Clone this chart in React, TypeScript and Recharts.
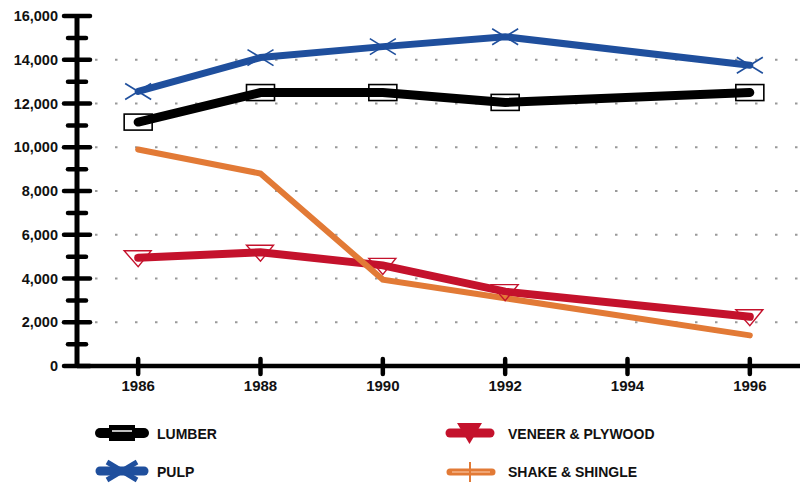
import { CartesianGrid, Line, LineChart, XAxis, YAxis } from 'recharts'

const YEARS = [1986, 1988, 1990, 1992, 1996]
const LUMBER = [11150, 12500, 12500, 12050, 12500]
const PULP = [12550, 14100, 14600, 15050, 13750]
const VENEER = [4950, 5200, 4600, 3400, 2250]
const SHAKE = [9900, 8800, 3950, 3100, 1400]

const X_TICKS = [1986, 1988, 1990, 1992, 1994, 1996]
const Y_TICKS = [0, 1000, 2000, 3000, 4000, 5000, 6000, 7000, 8000, 9000, 10000, 11000, 12000, 13000, 14000, 15000, 16000]
const GRID_VALUES = [2000, 4000, 6000, 8000, 10000, 12000, 14000]

const data = YEARS.map((year, i) => ({
  year, lumber: LUMBER[i], pulp: PULP[i], veneer: VENEER[i], shake: SHAKE[i],
}))

const FONT = '"Liberation Sans", Arial, Helvetica, sans-serif'
const BLUE = '#1f4f9d'
const RED = '#c4122c'
const ORANGE = '#e27a36'

function YTick({ x, y, payload }: any) {
  const major = payload.value % 2000 === 0
  return (
    <g>
      <line x1={x - (major ? 13 : 9)} x2={x + (major ? 13 : 9)} y1={y} y2={y} stroke="#000" strokeWidth={4.5} strokeLinecap="round" />
      {major && (
        <text x={x - 19} y={y} dy={5} textAnchor="end" fontFamily={FONT} fontWeight="bold" fontSize={14.5} fill="#111">
          {payload.value.toLocaleString('en-US')}
        </text>
      )}
    </g>
  )
}

function XTick({ x, y, payload }: any) {
  return (
    <g>
      <line x1={x} x2={x} y1={y - 7} y2={y + 8} stroke="#000" strokeWidth={4.5} strokeLinecap="round" />
      <text x={x} y={y + 25} textAnchor="middle" fontFamily={FONT} fontWeight="bold" fontSize={15} fill="#111">
        {payload.value}
      </text>
    </g>
  )
}

const BoxDot = ({ cx, cy, index }: any) => (
  <rect key={`b${index}`} x={cx - 14} y={cy - 8} width={28} height={16} fill="none" stroke="#000" strokeWidth={1.6} />
)

const CrossDot = ({ cx, cy, index }: any) => (
  <g key={`c${index}`} stroke={BLUE} strokeWidth={1.6}>
    <line x1={cx - 13} y1={cy - 8} x2={cx + 13} y2={cy + 8} />
    <line x1={cx - 13} y1={cy + 8} x2={cx + 13} y2={cy - 8} />
  </g>
)

const TriDot = ({ cx, cy, index }: any) => (
  <polygon key={`t${index}`} points={`${cx - 14},${cy - 7} ${cx + 13},${cy - 7} ${cx},${cy + 9}`} fill="none" stroke={RED} strokeWidth={1.4} />
)

function LegendKey() {
  const txt = { fontFamily: FONT, fontWeight: 'bold' as const, fontSize: 14, fill: '#111' }
  return (
    <svg width={800} height={485} style={{ position: 'absolute', left: 0, top: 0, pointerEvents: 'none' }}>
      <line x1={100} x2={144} y1={433} y2={433} stroke="#000" strokeWidth={10} strokeLinecap="round" />
      <rect x={109} y={425} width={26} height={16} fill="#000" />
      <line x1={112} x2={132} y1={431} y2={431} stroke="#fff" strokeWidth={1.5} />
      <text x={157} y={438.5} {...txt}>LUMBER</text>

      <line x1={100} x2={144} y1={471} y2={471} stroke={BLUE} strokeWidth={9} strokeLinecap="round" />
      <line x1={107} y1={462} x2={137} y2={480} stroke={BLUE} strokeWidth={5} />
      <line x1={107} y1={480} x2={137} y2={462} stroke={BLUE} strokeWidth={5} />
      <text x={157} y={477} {...txt}>PULP</text>

      <line x1={450} x2={490} y1={433} y2={433} stroke={RED} strokeWidth={9} strokeLinecap="round" />
      <polygon points="457,423 482,423 469.5,444" fill={RED} />
      <text x={508} y={439} {...txt}>VENEER &amp; PLYWOOD</text>

      <line x1={450} x2={492} y1={472} y2={472} stroke={ORANGE} strokeWidth={7} strokeLinecap="round" />
      <line x1={452} x2={490} y1={472} y2={472} stroke="#f5b58a" strokeWidth={1.5} />
      <line x1={470} x2={470} y1={462} y2={482} stroke={ORANGE} strokeWidth={2} />
      <text x={508} y={477} {...txt}>SHAKE &amp; SHINGLE</text>
    </svg>
  )
}

export default function App() {
  return (
    <div style={{ position: 'relative', width: 800, height: 485, overflow: 'hidden', background: '#fff' }}>
      <style>{'body{margin:0}'}</style>
      <LineChart width={820} height={485} data={data} margin={{ top: 16, right: 9, bottom: 89, left: 0 }}>
        <CartesianGrid vertical={false} horizontalValues={GRID_VALUES} stroke="#999" strokeWidth={2} strokeDasharray="2.5 17.5" strokeDashoffset={-18} />
        <XAxis dataKey="year" type="number" domain={[1985, 1997]} ticks={X_TICKS} interval={0} height={30}
          axisLine={{ stroke: '#000', strokeWidth: 4.5 }} tickLine={false} tickSize={0} tickMargin={0} tick={<XTick />} />
        <YAxis type="number" domain={[0, 16000]} ticks={Y_TICKS} interval={0} width={77}
          axisLine={{ stroke: '#000', strokeWidth: 5 }} tickLine={false} tickSize={0} tickMargin={0} tick={<YTick />} />
        <Line dataKey="veneer" stroke={RED} strokeWidth={8} strokeLinecap="round" dot={TriDot} isAnimationActive={false} />
        <Line dataKey="shake" stroke={ORANGE} strokeWidth={6} strokeLinecap="round" dot={false} isAnimationActive={false} />
        <Line dataKey="lumber" stroke="#000" strokeWidth={9} strokeLinecap="round" dot={BoxDot} isAnimationActive={false} />
        <Line dataKey="pulp" stroke={BLUE} strokeWidth={7} strokeLinecap="round" dot={CrossDot} isAnimationActive={false} />
      </LineChart>
      <LegendKey />
    </div>
  )
}
